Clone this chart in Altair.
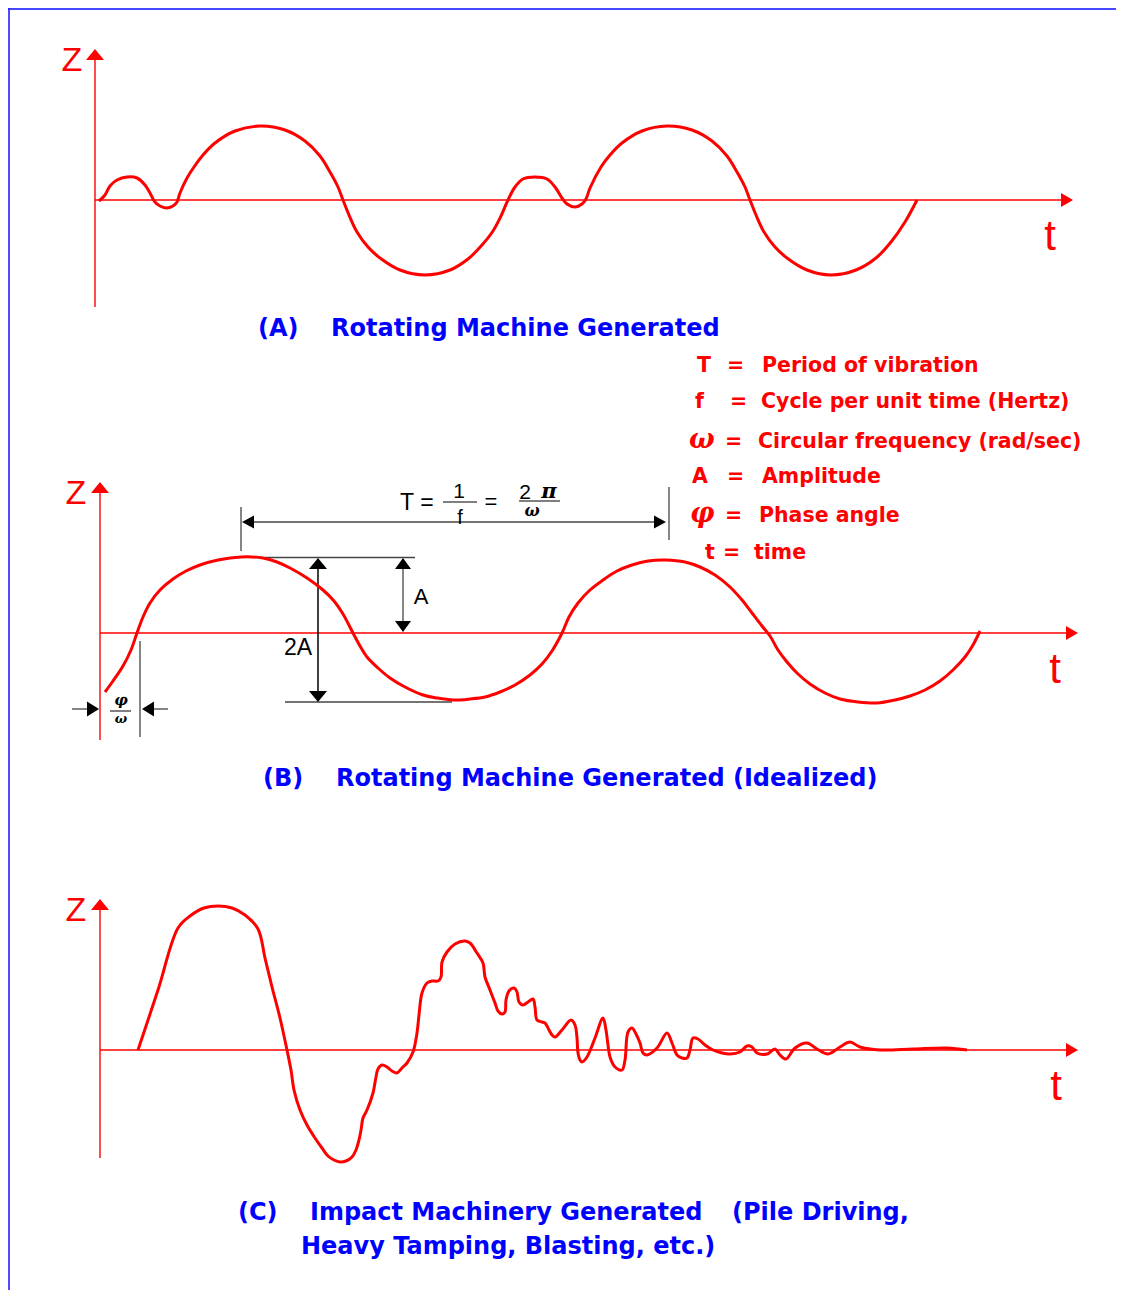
import altair as alt
import pandas as pd

# ---------------- values (page-pixel units) ----------------
# Panel (A) rotating machine record
A_pts = [(99, 201), (105, 195), (110, 186), (117, 180), (127, 177), (137, 178), (145, 185),
         (150, 193), (155, 202), (160, 206), (166, 208), (173, 206), (177, 202), (180, 193),
         (187, 178), (194, 167), (203, 155), (215, 143), (235, 131), (260, 126), (285, 130),
         (305, 141), (320, 156), (330, 172), (338, 187), (343, 200), (349, 215), (357, 232),
         (368, 247), (380, 258), (400, 270), (425, 275), (450, 270), (468, 259), (482, 245),
         (493, 231), (501, 216), (508, 200), (515, 187), (523, 179), (535, 177), (547, 179),
         (555, 187), (562, 198), (567, 204), (575, 207), (582, 204), (586, 199), (590, 188),
         (601, 167), (610, 155), (622, 143), (642, 131), (667, 126), (692, 130), (712, 141),
         (727, 156), (737, 172), (745, 187), (750, 200), (756, 215), (764, 232), (775, 247),
         (787, 258), (807, 270), (831, 275), (856, 270), (876, 258), (891, 242), (905, 222),
         (917, 200)]

# Panel (B) idealized sine record
B_pts = [(105, 692), (113, 681), (123, 666), (131, 650), (137, 633), (143, 617), (150, 603),
         (160, 590), (173, 579), (186, 571), (200, 565), (218, 560), (241, 557), (263, 558),
         (277, 562), (290, 568), (307, 578), (323, 590), (334, 601), (343, 614), (353, 633),
         (360, 646), (367, 657), (378, 668), (390, 678), (405, 687), (423, 695), (437, 698),
         (453, 700), (470, 699), (485, 697), (500, 692), (515, 685), (530, 675), (542, 664),
         (552, 651), (562, 633), (569, 617), (578, 603), (590, 590), (603, 580), (617, 571),
         (632, 565), (648, 561), (666, 560), (685, 562), (700, 567), (715, 575), (730, 587),
         (742, 600), (752, 613), (762, 626), (770, 636), (778, 650), (787, 662), (798, 674),
         (810, 684), (825, 693), (840, 699), (858, 702), (877, 703), (895, 700), (910, 696),
         (925, 690), (940, 681), (953, 670), (965, 657), (973, 645), (980, 631)]

# Panel (C) impact record
C_pts = [(138, 1050), (158, 990), (178, 928), (190, 916), (204, 908), (218, 906), (232, 908),
         (245, 915), (258, 929), (265, 958), (272, 987), (280, 1018), (287, 1050), (291, 1070),
         (294, 1090), (300, 1110), (307, 1125), (315, 1138), (322, 1148), (328, 1156),
         (334, 1160), (340, 1162), (346, 1161), (352, 1157), (356, 1150), (359, 1140),
         (361, 1130), (363, 1118), (367, 1110), (373, 1093), (376, 1077), (378, 1069),
         (382, 1065), (387, 1067), (392, 1071), (397, 1073), (402, 1068), (407, 1063),
         (413, 1052), (417, 1033), (419, 1015), (422, 993), (427, 983), (432, 981), (438, 981),
         (441, 977), (442, 962), (447, 952), (455, 944), (465, 941), (470, 943), (477, 953),
         (483, 963), (485, 977), (490, 990), (495, 1003), (498, 1011), (502, 1014), (505, 1012),
         (506, 1000), (509, 991), (514, 988), (517, 992), (519, 1002), (523, 1005), (528, 1002),
         (533, 999), (535, 1007), (537, 1020), (542, 1022), (545, 1023), (549, 1030),
         (552, 1035), (555, 1037), (562, 1030), (571, 1020), (575, 1025), (577, 1038),
         (578, 1053), (580, 1060), (582, 1062), (587, 1057), (595, 1038), (603, 1018),
         (606, 1030), (608, 1045), (610, 1057), (615, 1067), (622, 1070), (625, 1060),
         (628, 1032), (632, 1028), (636, 1034), (640, 1043), (643, 1053), (647, 1055),
         (657, 1048), (667, 1033), (672, 1043), (677, 1055), (682, 1058), (687, 1058),
         (690, 1050), (693, 1038), (698, 1039), (705, 1045), (713, 1050), (722, 1053),
         (730, 1054), (740, 1052), (747, 1046), (752, 1047), (757, 1053), (767, 1054),
         (775, 1049), (780, 1055), (786, 1059), (795, 1048), (807, 1043), (817, 1049),
         (828, 1054), (840, 1047), (850, 1042), (860, 1047), (880, 1050), (913, 1049),
         (947, 1048), (967, 1050)]

# straight segments: (x0, y0, x1, y1, colour, width)
frame_lines = [(8, 9, 1116, 9, "#4747ff", 2.2), (9, 8, 9, 1290, "#2020ff", 1.6)]
axis_lines = [(95, 307, 95, 58, "#ff0000", 1.4), (95, 200, 1062, 200, "#ff0000", 1.4),
              (100, 740, 100, 492, "#ff0000", 1.4), (100, 633, 1066, 633, "#ff0000", 1.4),
              (100, 1158, 100, 909, "#ff0000", 1.4), (100, 1050, 1066, 1050, "#ff0000", 1.4)]
dim_lines = [(241, 507, 241, 551, "#444444", 1.3), (669, 487, 669, 540, "#444444", 1.3),
             (245, 522, 662, 522, "#444444", 1.3), (265, 557.5, 415, 557.5, "#444444", 1.3),
             (285, 702, 452, 702, "#444444", 1.3), (403, 562, 403, 628, "#444444", 1.3),
             (318, 562, 318, 698, "#000000", 1.5), (140, 641, 140, 737, "#444444", 1.3),
             (72, 709, 95, 709, "#444444", 1.3), (146, 709, 168, 709, "#444444", 1.3),
             (443, 502, 477, 502, "#000000", 1.2), (519, 501, 560, 501, "#000000", 1.2),
             (110, 711, 131, 711, "#000000", 1.0)]

# arrow heads: (tip x, tip y, outline with the tip at the origin, colour)
UP_R = "M0,0L-9,11L9,11Z"
RIGHT_R = "M0,0L-12,-7L-12,7Z"
arrow_heads = [(95, 49, UP_R, "#ff0000"), (1073, 200, RIGHT_R, "#ff0000"),
               (100, 482, UP_R, "#ff0000"), (1078, 633, RIGHT_R, "#ff0000"),
               (100, 899, UP_R, "#ff0000"), (1078, 1050, RIGHT_R, "#ff0000"),
               (242, 522, "M0,0L12,-6.5L12,6.5Z", "#000000"),
               (666, 522, "M0,0L-12,-6.5L-12,6.5Z", "#000000"),
               (403, 558, "M0,0L-8,11L8,11Z", "#000000"),
               (403, 632, "M0,0L-8,-11L8,-11Z", "#000000"),
               (318, 558, "M0,0L-9,11L9,11Z", "#000000"),
               (318, 702, "M0,0L-9,-11L9,-11Z", "#000000"),
               (99, 709, "M0,0L-12,-7.5L-12,7.5Z", "#000000"),
               (142, 709, "M0,0L12,-7.5L12,7.5Z", "#000000")]

# text: (label, x, baseline y)
title_texts = [("(A)", 258, 336), ("Rotating Machine Generated", 331, 336),
               ("(B)", 263, 786), ("Rotating Machine Generated (Idealized)", 336, 786),
               ("(C)", 238, 1220), ("Impact Machinery Generated", 310, 1220),
               ("(Pile Driving,", 732, 1220), ("Heavy Tamping, Blasting, etc.)", 301, 1254)]
legend_texts = [("T", 697, 372), ("=", 727, 372), ("Period of vibration", 762, 372),
                ("f", 695, 408), ("=", 730, 408), ("Cycle per unit time (Hertz)", 761, 408),
                ("=", 725, 448), ("Circular frequency (rad/sec)", 758, 448),
                ("A", 692, 483), ("=", 727, 483), ("Amplitude", 762, 483),
                ("=", 725, 522), ("Phase angle", 759, 522),
                ("t", 705, 559), ("=", 723, 559), ("time", 754, 559)]
legend_greek = [("ω", 689, 448), ("φ", 690, 522)]
axis_letters = [("Z", 72, 71, 34), ("t", 1050, 250, 42),
                ("Z", 76, 504, 34), ("t", 1055, 683, 42),
                ("Z", 76, 921, 34), ("t", 1056, 1100, 42)]
formula_texts = [("T", 407, 510, 23), ("=", 427, 510, 23), ("1", 459, 498, 21),
                 ("f", 460, 524, 20), ("=", 491, 509, 22), ("2", 525, 499, 21),
                 ("A", 421, 604, 22), ("2A", 298, 655, 23)]
formula_greek = [("π", 549, 498, 21), ("ω", 532, 516, 16),
                 ("φ", 121, 705, 15), ("ω", 121, 723, 13)]

# ---------------- chart ----------------
X_SCALE = alt.Scale(domain=[8, 1116], nice=False, zero=False)
Y_SCALE = alt.Scale(domain=[8, 1290], reverse=True, nice=False, zero=False)
X = alt.X("x:Q", scale=X_SCALE, axis=None)
Y = alt.Y("y:Q", scale=Y_SCALE, axis=None)


def curve_df(name, pts):
    return pd.DataFrame({"x": [p[0] for p in pts], "y": [p[1] for p in pts],
                         "curve": name, "i": list(range(len(pts)))})


curves = pd.concat([curve_df("A", A_pts), curve_df("B", B_pts), curve_df("C", C_pts)])

seg_df = pd.DataFrame(frame_lines + axis_lines + dim_lines,
                      columns=["x", "y", "x2", "y2", "color", "w"])
head_df = pd.DataFrame(arrow_heads, columns=["x", "y", "path", "color"])

rules = alt.Chart(seg_df).mark_rule().encode(
    X, Y, x2="x2:Q", y2="y2:Q",
    color=alt.Color("color:N", scale=None),
    strokeWidth=alt.StrokeWidth("w:Q", scale=None))

lines = alt.Chart(curves).mark_line(color="#ff0000", strokeWidth=3,
                                    interpolate="catmull-rom").encode(
    X, Y, detail="curve:N", order="i:Q")

heads = alt.Chart(head_df).mark_point(filled=True, opacity=1, strokeWidth=0, size=4).encode(
    X, Y, shape=alt.Shape("path:N", scale=None), color=alt.Color("color:N", scale=None))


def text_layer(rows, cols, **props):
    df = pd.DataFrame(rows, columns=cols)
    enc = dict(x=X, y=Y, text="label:N")
    if "fs" in cols:
        enc["size"] = alt.Size("fs:Q", scale=None)
    return alt.Chart(df).mark_text(baseline="alphabetic", **props).encode(**enc)


titles = text_layer(title_texts, ["label", "x", "y"], font="DejaVu Sans", fontWeight="bold",
                    fontSize=24, color="#0000ff", align="left")
legend = text_layer(legend_texts, ["label", "x", "y"], font="DejaVu Sans", fontWeight="bold",
                    fontSize=20.5, color="#ff0000", align="left")
legend_g = text_layer(legend_greek, ["label", "x", "y"], font="DejaVu Serif",
                      fontStyle="italic", fontWeight="bold", fontSize=27, color="#ff0000",
                      align="left")
axis_t = text_layer(axis_letters, ["label", "x", "y", "fs"], font="Liberation Sans",
                    color="#ff0000", align="center")
formula = text_layer(formula_texts, ["label", "x", "y", "fs"], font="Liberation Sans",
                     color="#000000", align="center")
formula_g = text_layer(formula_greek, ["label", "x", "y", "fs"], font="DejaVu Serif",
                       fontStyle="italic", fontWeight="bold", color="#000000", align="center")

chart = alt.layer(rules, lines, heads, titles, legend, legend_g, axis_t, formula,
                  formula_g).properties(
    width=1108, height=1282, padding=0,
    autosize=alt.AutoSizeParams(type="none"), background="white"
).configure_view(stroke=None)

chart.save("out.html", embed_options={"renderer": "svg", "actions": False})
